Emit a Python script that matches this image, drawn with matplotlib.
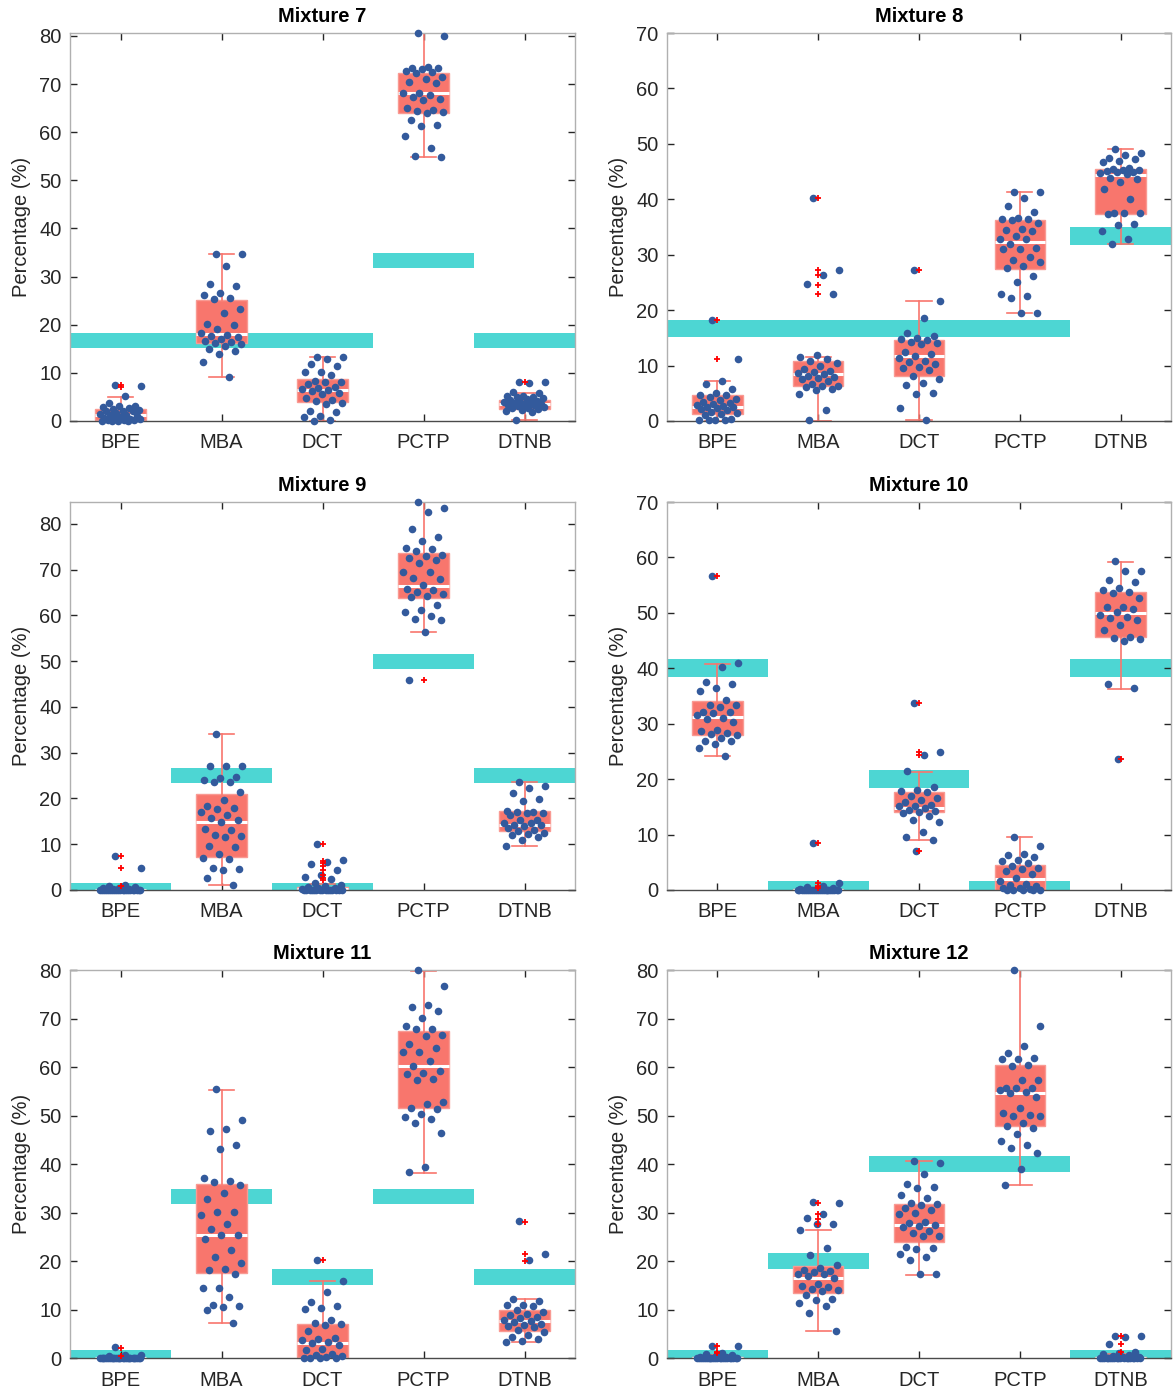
import numpy as np
import matplotlib
matplotlib.use("Agg")
import matplotlib.pyplot as plt

plt.rcParams['font.family'] = ['Liberation Sans', 'DejaVu Sans']

categories = ['BPE', 'MBA', 'DCT', 'PCTP', 'DTNB']

# ---------------- Mixture 7 ----------------
m7_bpe = [7.5, 7.2, 5.1, 3.8, 3.2, 3.1, 2.9, 2.8, 2.4, 2.3, 2.1, 2.0, 2.0, 1.6, 1.4,
          1.3, 1.2, 1.0, 0.8, 0.7, 0.5, 0.4, 0.4, 0.3, 0.2, 0.1, 0.0, 0.0, 0.0, 0.0]
m7_mba = [34.7, 34.6, 32.3, 28.5, 28.1, 26.5, 26.2, 25.5, 25.3, 23.3, 22.4, 20.1, 20.0,
          19.1, 18.3, 17.9, 17.7, 17.4, 17.0, 16.7, 16.5, 16.3, 16.0, 15.6, 14.9, 14.6,
          14.0, 12.2, 9.2]
m7_dct = [13.3, 13.2, 12.8, 11.8, 11.5, 10.1, 10.1, 9.6, 8.3, 8.1, 8.0, 7.6, 7.1, 6.8,
          6.6, 6.4, 6.25, 5.9, 5.6, 4.7, 4.4, 4.2, 3.8, 3.5, 2.1, 1.9, 1.0, 0.8, 0.1, 0.0]
m7_pctp = [80.6, 80.0, 73.6, 73.3, 73.3, 73.1, 72.7, 72.6, 72.4, 71.4, 71.1, 70.5, 70.3,
           68.2, 68.1, 67.8, 67.4, 66.8, 66.7, 65.1, 64.6, 64.4, 64.2, 63.9, 62.5, 61.5,
           61.3, 59.2, 56.8, 55.1, 54.9]
m7_dtnb = [8.2, 8.1, 7.8, 6.0, 5.9, 5.2, 5.1, 5.0, 4.9, 4.7, 4.5, 4.3, 4.2, 4.0, 3.9,
           3.8, 3.7, 3.6, 3.5, 3.4, 3.3, 3.2, 3.0, 2.8, 2.7, 2.5, 2.3, 2.1, 1.8, 0.3]
m7_true = [16.67, 16.67, 16.67, 33.33, 16.67]
m7_q1 = [0.2, 16.3, 4.0, 64.0, 2.5]
m7_med = [1.2, 18.1, 6.45, 68.2, 3.5]
m7_q3 = [2.5, 25.2, 8.8, 72.4, 4.4]
m7_lo = [0.0, 9.2, 0.0, 54.9, 0.3]
m7_hi = [5.0, 34.7, 13.3, 80.6, 5.9]
m7_out = [[7.1, 7.4], [], [], [], [8.1]]

# ---------------- Mixture 8 ----------------
m8_bpe = [18.3, 11.2, 7.2, 6.6, 5.7, 5.05, 4.75, 4.6, 4.3, 4.0, 3.7, 3.4, 3.25, 3.0,
          2.95, 2.7, 2.6, 2.5, 2.35, 2.2, 1.9, 1.6, 1.5, 1.3, 1.0, 0.3, 0.1, 0.1, 0.1, 0.1]
m8_mba = [40.2, 27.3, 26.3, 24.7, 23.0, 11.85, 11.55, 11.1, 10.8, 10.5, 10.0, 9.3, 9.0,
          8.8, 8.7, 8.5, 8.2, 7.9, 7.7, 7.6, 7.3, 6.7, 6.4, 6.3, 6.1, 5.8, 5.5, 4.8, 1.9, 0.1]
m8_dct = [27.2, 21.7, 18.6, 15.9, 15.3, 15.0, 14.85, 14.55, 14.25, 14.1, 13.95, 12.4,
          12.15, 11.7, 11.35, 10.9, 10.6, 10.2, 9.75, 9.55, 9.15, 8.2, 7.6, 6.9, 6.55,
          5.1, 4.9, 2.35, 0.1]
m8_pctp = [41.4, 41.4, 40.2, 38.8, 37.7, 36.6, 36.5, 36.4, 36.2, 35.8, 34.7, 34.4, 34.3,
           33.4, 32.9, 32.8, 32.0, 31.2, 31.1, 31.0, 29.6, 29.0, 28.6, 28.0, 27.6, 26.2,
           25.1, 23.0, 22.5, 22.2, 19.5, 19.5]
m8_dtnb = [49.1, 48.4, 48.0, 47.5, 47.3, 47.0, 46.8, 45.6, 45.4, 45.3, 45.2, 45.1, 45.0,
           44.9, 44.8, 44.6, 43.9, 43.7, 43.2, 41.8, 40.1, 37.6, 37.6, 37.6, 37.4, 35.6,
           35.4, 34.3, 32.8, 32.0]
m8_true = [16.67, 16.67, 16.67, 16.67, 33.33]
m8_q1 = [1.3, 6.4, 8.1, 27.5, 37.4]
m8_med = [2.5, 8.5, 11.7, 32.3, 44.3]
m8_q3 = [4.6, 10.8, 14.55, 36.3, 45.4]
m8_lo = [0.0, 0.0, 0.1, 19.5, 32.0]
m8_hi = [7.2, 11.55, 21.7, 41.4, 49.1]
m8_out = [[11.1, 18.3], [23.0, 24.6, 26.3, 27.2, 40.2], [27.2], [], []]

# ---------------- Mixture 9 ----------------
m9_bpe = [7.4, 4.8, 1.0, 0.9, 0.7, 0.5, 0.4, 0.3, 0.2, 0.1, 0.1, 0.0, 0.0, 0.0, 0.0,
          0.0, 0.0, 0.0, 0.0, 0.0, 0.0, 0.0, 0.0, 0.0, 0.0, 0.0, 0.0, 0.0, 0.0, 0.0]
m9_mba = [34.1, 27.2, 27.2, 27.0, 24.6, 24.5, 24.1, 23.7, 23.6, 21.4, 19.75, 18.3, 17.9,
          17.7, 17.1, 16.5, 15.8, 15.4, 14.9, 13.4, 13.1, 12.1, 11.8, 11.5, 9.7, 9.4,
          7.9, 7.0, 6.8, 4.9, 4.5, 4.3, 2.7, 1.1]
m9_dct = [10.1, 6.5, 6.2, 5.6, 4.4, 3.3, 2.8, 2.3, 1.6, 1.1, 0.9, 0.65, 0.5, 0.35, 0.15,
          0.1, 0.0, 0.0, 0.0, 0.0, 0.0, 0.0, 0.0, 0.0, 0.0, 0.0, 0.0, 0.0, 0.0, 0.0]
m9_pctp = [84.7, 83.4, 82.7, 78.8, 77.1, 76.3, 74.7, 74.6, 74.0, 73.3, 73.0, 72.6, 72.2,
           71.5, 69.6, 69.6, 68.2, 67.9, 66.6, 65.9, 65.6, 65.1, 64.8, 64.3, 64.1, 62.4,
           61.1, 60.8, 59.9, 59.3, 59.1, 56.4, 45.9]
m9_dtnb = [23.7, 22.7, 22.3, 21.2, 19.9, 19.4, 17.2, 17.1, 17.1, 16.8, 16.8, 16.3, 15.4,
           15.2, 14.7, 14.7, 14.3, 14.2, 13.9, 13.6, 13.2, 12.9, 12.5, 12.3, 12.0, 11.5,
           11.0, 9.6]
m9_true = [0, 25, 0, 50, 25]
m9_q1 = [0.0, 7.2, 0.0, 63.9, 12.85]
m9_med = [0.0, 14.9, 0.2, 66.45, 14.3]
m9_q3 = [0.1, 21.0, 0.6, 73.7, 17.2]
m9_lo = [0.0, 1.1, 0.0, 56.4, 9.6]
m9_hi = [0.35, 34.1, 1.4, 84.7, 23.6]
m9_out = [[0.9, 4.7, 7.4], [], [2.1, 2.7, 3.3, 4.3, 5.2, 5.8, 6.3, 10.0], [45.9], []]

# ---------------- Mixture 10 ----------------
m10_bpe = [56.7, 40.9, 40.3, 37.6, 37.1, 36.5, 35.9, 34.3, 33.4, 33.3, 33.1, 32.2, 32.1,
           31.9, 31.5, 31.1, 30.9, 30.4, 28.9, 28.7, 28.4, 28.1, 27.9, 27.5, 26.9, 26.8,
           26.3, 25.6, 24.2]
m10_mba = [8.4, 1.3, 0.8, 0.5, 0.4, 0.25, 0.1, 0.0, 0.0, 0.0, 0.0, 0.0, 0.0, 0.0, 0.0,
           0.0, 0.0, 0.0, 0.0, 0.0, 0.0, 0.0, 0.0, 0.0, 0.0, 0.0, 0.0, 0.0, 0.0]
m10_dct = [33.7, 24.9, 24.4, 21.4, 18.5, 18.1, 17.9, 17.7, 16.9, 16.6, 16.3, 15.9, 15.3,
           15.2, 15.1, 14.8, 14.5, 14.2, 14.1, 13.9, 13.3, 12.7, 12.3, 10.4, 9.5, 9.1, 7.1]
m10_pctp = [9.5, 7.9, 6.5, 6.3, 5.9, 5.5, 5.2, 4.9, 4.3, 4.0, 3.8, 3.4, 2.9, 2.2, 1.6,
            1.1, 0.9, 0.7, 0.4, 0.3, 0.1, 0.0, 0.0, 0.0, 0.0, 0.0]
m10_dtnb = [59.3, 57.6, 57.6, 55.9, 55.6, 54.5, 54.1, 53.8, 53.5, 52.7, 51.1, 51.0, 50.7,
            50.2, 49.6, 49.3, 49.0, 48.8, 47.9, 46.9, 45.7, 45.4, 45.3, 45.0, 37.1, 36.4,
            23.6]
m10_true = [40, 0, 20, 0, 40]
m10_q1 = [27.9, 0.0, 14.1, 0.0, 45.7]
m10_med = [31.2, 0.0, 14.8, 2.0, 49.9]
m10_q3 = [34.1, 0.1, 17.7, 4.45, 53.7]
m10_lo = [24.2, 0.0, 9.0, 0.0, 36.3]
m10_hi = [40.85, 0.2, 21.35, 9.5, 59.2]
m10_out = [[56.7], [0.4, 0.8, 1.3, 8.4], [7.1, 24.4, 24.9, 33.7], [], [23.6]]

# ---------------- Mixture 11 ----------------
m11_bpe = [2.3, 0.7, 0.55, 0.35, 0.1, 0.0, 0.0, 0.0, 0.0, 0.0, 0.0, 0.0, 0.0, 0.0, 0.0,
           0.0, 0.0, 0.0, 0.0, 0.0, 0.0, 0.0, 0.0, 0.0, 0.0, 0.0, 0.0, 0.0, 0.0, 0.0]
m11_mba = [55.4, 49.1, 47.3, 46.9, 44.0, 43.0, 37.1, 36.6, 36.2, 35.7, 34.0, 32.8, 30.1,
           30.1, 29.4, 27.6, 26.7, 25.3, 25.3, 24.6, 22.3, 20.8, 19.6, 18.3, 18.2, 17.4,
           14.5, 14.5, 12.6, 10.9, 10.7, 10.5, 10.0, 7.3]
m11_dct = [20.3, 15.9, 13.7, 11.5, 10.7, 10.3, 10.2, 7.8, 7.3, 7.1, 6.9, 5.5, 4.1, 4.0,
           3.8, 3.4, 3.0, 2.75, 1.9, 1.6, 0.9, 0.55, 0.35, 0.2, 0.0, 0.0, 0.0, 0.0]
m11_pctp = [80.1, 76.8, 72.9, 72.4, 71.5, 70.1, 68.5, 67.9, 67.8, 66.7, 66.5, 64.7, 64.0,
            63.2, 63.2, 61.2, 60.3, 59.2, 58.8, 58.6, 57.6, 57.3, 52.8, 52.4, 51.6, 51.4,
            50.4, 49.7, 49.3, 48.5, 46.3, 39.3, 38.4]
m11_dtnb = [28.2, 21.5, 20.3, 12.2, 11.7, 11.0, 10.9, 10.7, 9.8, 9.5, 9.1, 8.8, 8.5, 8.2,
            7.8, 7.6, 7.4, 7.1, 6.9, 6.5, 6.4, 5.7, 5.4, 4.8, 4.3, 4.0, 3.6, 3.4]
m11_true = [0, 33.33, 16.67, 33.33, 16.67]
m11_q1 = [0.0, 17.5, 0.15, 51.5, 5.6]
m11_med = [0.0, 25.3, 3.1, 60.3, 7.6]
m11_q3 = [0.0, 35.9, 7.1, 67.35, 9.8]
m11_lo = [0.0, 7.2, 0.0, 38.2, 3.3]
m11_hi = [0.0, 55.3, 15.9, 79.9, 12.1]
m11_out = [[0.5, 2.1], [], [20.3], [], [20.1, 21.5, 28.0]]

# ---------------- Mixture 12 ----------------
m12_bpe = [2.4, 2.4, 1.1, 0.8, 0.65, 0.45, 0.3, 0.2, 0.1, 0.0, 0.0, 0.0, 0.0, 0.0, 0.0,
           0.0, 0.0, 0.0, 0.0, 0.0, 0.0, 0.0, 0.0, 0.0, 0.0, 0.0, 0.0, 0.0, 0.0, 0.0]
m12_mba = [32.1, 32.0, 29.6, 28.8, 27.6, 27.6, 26.4, 22.7, 21.2, 19.1, 18.6, 18.2, 18.0,
           17.8, 17.4, 17.3, 16.9, 16.4, 15.3, 14.9, 14.7, 14.3, 14.1, 13.8, 13.0, 12.2,
           12.0, 11.4, 10.7, 9.2, 5.6]
m12_dct = [40.6, 40.3, 38.0, 35.9, 35.2, 35.1, 33.6, 32.9, 31.9, 31.8, 31.6, 30.9, 30.6,
           29.9, 29.7, 28.1, 27.8, 27.4, 27.3, 27.0, 26.2, 25.7, 25.2, 25.2, 22.8, 22.7,
           22.4, 21.5, 20.9, 20.2, 17.4, 17.3]
m12_pctp = [80.0, 68.4, 64.3, 63.0, 61.8, 61.7, 61.6, 60.5, 60.2, 57.4, 57.4, 55.7, 55.7,
            55.6, 55.3, 54.8, 54.6, 53.9, 51.5, 50.5, 50.2, 50.0, 49.9, 48.5, 47.8, 47.5,
            46.1, 44.7, 43.9, 43.3, 42.2, 38.9, 35.7]
m12_dtnb = [4.6, 4.6, 4.4, 2.8, 1.3, 1.0, 0.8, 0.65, 0.45, 0.3, 0.2, 0.1, 0.0, 0.0, 0.0,
            0.0, 0.0, 0.0, 0.0, 0.0, 0.0, 0.0, 0.0, 0.0, 0.0, 0.0, 0.0, 0.0, 0.0, 0.0]
m12_true = [0, 20, 40, 40, 0]
m12_q1 = [0.0, 13.5, 23.9, 47.9, 0.0]
m12_med = [0.0, 16.6, 27.5, 54.6, 0.0]
m12_q3 = [0.2, 18.9, 31.8, 60.5, 0.3]
m12_lo = [0.0, 5.6, 17.2, 35.7, 0.0]
m12_hi = [0.65, 26.4, 40.6, 80.0, 0.8]
m12_out = [[1.0, 1.3, 2.4], [27.6, 28.75, 29.6, 32.0], [], [], [1.3, 2.8, 4.6]]

panels = [
    ("Mixture 7", [m7_bpe, m7_mba, m7_dct, m7_pctp, m7_dtnb], m7_q1, m7_med, m7_q3,
     m7_lo, m7_hi, m7_out, m7_true, 80.6),
    ("Mixture 8", [m8_bpe, m8_mba, m8_dct, m8_pctp, m8_dtnb], m8_q1, m8_med, m8_q3,
     m8_lo, m8_hi, m8_out, m8_true, 70),
    ("Mixture 9", [m9_bpe, m9_mba, m9_dct, m9_pctp, m9_dtnb], m9_q1, m9_med, m9_q3,
     m9_lo, m9_hi, m9_out, m9_true, 84.8),
    ("Mixture 10", [m10_bpe, m10_mba, m10_dct, m10_pctp, m10_dtnb], m10_q1, m10_med,
     m10_q3, m10_lo, m10_hi, m10_out, m10_true, 70),
    ("Mixture 11", [m11_bpe, m11_mba, m11_dct, m11_pctp, m11_dtnb], m11_q1, m11_med,
     m11_q3, m11_lo, m11_hi, m11_out, m11_true, 80),
    ("Mixture 12", [m12_bpe, m12_mba, m12_dct, m12_pctp, m12_dtnb], m12_q1, m12_med,
     m12_q3, m12_lo, m12_hi, m12_out, m12_true, 80),
]

SALMON = '#F8766D'
CYAN = '#4DD6D3'
DOT = '#335A9C'
BAND = 1.6          # half thickness of the reference band, in percent
TEXT = '#262626'

fig = plt.figure(figsize=(11.75, 13.88), dpi=100)
col_left = [0.0596, 0.5677]
col_width = [0.4298, 0.4289]
row_bottom = [0.6967, 0.3588, 0.0216]
row_height = 0.2795


def jitter(n, spread=0.21):
    # evenly scattered horizontal offsets (golden-ratio sequence)
    k = np.arange(n)
    return ((k * 0.6180339887 + 0.37) % 1.0 - 0.5) * 2 * spread


for i, (title, groups, q1, med, q3, lo, hi, out, truth, ymax) in enumerate(panels):
    r, c = divmod(i, 2)
    ax = fig.add_axes([col_left[c], row_bottom[r], col_width[c], row_height])
    x = np.arange(1, len(categories) + 1)

    # reference composition bands
    truth = np.asarray(truth, dtype=float)
    ax.bar(x, 2 * BAND, bottom=truth - BAND, width=1.0, color=CYAN,
           linewidth=0, zorder=1)

    stats = [dict(q1=q1[k], med=med[k], q3=q3[k], whislo=lo[k], whishi=hi[k],
                  fliers=out[k]) for k in range(len(categories))]
    arts = ax.bxp(stats, positions=x, widths=0.5, capwidths=0.25, patch_artist=True,
                  showfliers=True, manage_ticks=False, zorder=2,
                  boxprops=dict(facecolor=SALMON, edgecolor='#F99A93', linewidth=1.0),
                  medianprops=dict(color='white', linewidth=2.2),
                  whiskerprops=dict(color=SALMON, linewidth=1.2),
                  capprops=dict(color=SALMON, linewidth=1.2),
                  flierprops=dict(marker='+', markeredgecolor='red', markersize=5,
                                  markeredgewidth=1.3, linestyle='none'))
    for f in arts['fliers']:
        f.set_zorder(4)
        f.set_clip_on(False)

    for k, vals in enumerate(groups):
        vals = np.asarray(vals, dtype=float)
        ax.scatter(x[k] + jitter(len(vals)), vals, s=30, color=DOT, linewidths=0,
                   zorder=3, clip_on=False)

    ax.set_xlim(0.5, len(categories) + 0.5)
    ax.set_ylim(0, ymax)
    ax.set_xticks(x)
    ax.set_xticklabels(categories)
    ax.set_yticks(np.arange(0, ymax + 0.01, 10))
    ax.tick_params(direction='in', length=5, width=1.0, top=True, right=True,
                   labelsize=14.5, colors=TEXT)
    ax.tick_params(axis='x', pad=9)
    ax.tick_params(axis='y', pad=6)
    for side in ['top', 'left', 'right']:
        ax.spines[side].set_color('#B0B0B0')
        ax.spines[side].set_linewidth(1.0)
    ax.spines['bottom'].set_color('#4A4A4A')
    ax.spines['bottom'].set_linewidth(1.0)
    ax.set_ylabel('Percentage (%)', fontsize=14.5, color=TEXT, labelpad=6)
    ax.set_title(title, fontsize=14.5, fontweight='bold', pad=8)

fig.savefig('out.png', dpi=100)
